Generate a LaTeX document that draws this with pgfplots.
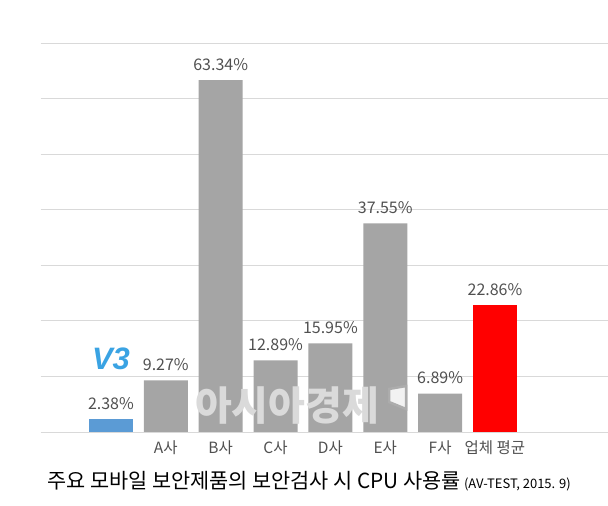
\documentclass[border=0pt]{standalone}
\usepackage{pgfplots}
\pgfplotsset{compat=1.18}
\usepackage{fontspec}
\setmainfont{Noto Sans CJK KR}
\newfontfamily\logofont{Liberation Sans}
\definecolor{barGray}{HTML}{A5A5A5}
\definecolor{barBlue}{HTML}{5B9BD5}
\definecolor{barRed}{HTML}{FF0000}
\definecolor{gridGray}{HTML}{D9D9D9}
\definecolor{txtGray}{HTML}{505050}
\definecolor{logoBlue}{HTML}{3AA3E3}
\definecolor{markGray}{HTML}{DADADA}
\begin{document}
\begin{tikzpicture}
\path[use as bounding box] (0,0) rectangle (608pt,506pt);
\begin{axis}[
    at={(40.7pt,74pt)}, anchor=south west,
    scale only axis,
    width=567.3pt, height=389pt,
    ybar, bar width=44pt, bar shift=0pt,
    xmin=-1.28, xmax=9.06,
    ymin=0, ymax=70,
    ytick={0,10,...,70}, yticklabels={},
    ymajorgrids, grid style={gridGray, line width=0.8pt},
    xtick={1,...,7},
    xticklabels={A사,B사,C사,D사,E사,F사,업체 평균},
    xticklabel style={font=\fontsize{15.5}{18}\selectfont, text=txtGray, yshift=-5pt},
    major tick length=0pt,
    axis line style={draw=none},
    /pgf/number format/assume math mode=true,
    nodes near coords={\pgfmathprintnumber[fixed,fixed zerofill,precision=2]{\pgfplotspointmeta}\%},
    every node near coord/.append style={font=\fontsize{16}{18}\selectfont, text=txtGray, yshift=6pt},
]
\addplot[fill=barBlue, draw=none] coordinates {(0,2.38)};
\addplot[fill=barGray, draw=none] coordinates {
    (1,9.27) (2,63.34) (3,12.89) (4,15.95) (5,37.55) (6,6.89)};
\addplot[fill=barRed, draw=none] coordinates {(7,22.86)};
\end{axis}
% V3 logo
\node[text=logoBlue, font=\logofont\bfseries\itshape\fontsize{31}{31}\selectfont] at (111pt,147pt) {V3};
% watermark
\node[text=markGray, font=\bfseries\fontsize{40}{40}\selectfont] at (287pt,100pt) {아시아경제};
\draw[gray!65, fill=white!95!black, line width=2.5pt, line join=miter]
  (389pt,117pt) -- (406pt,120pt) -- (406pt,97pt) -- (389pt,104pt) -- cycle;
% title
\node[anchor=base west, inner sep=0pt] at (47pt,17pt)
  {\fontsize{20.8}{24}\selectfont 주요 모바일 보안제품의 보안검사 시 CPU 사용률\hspace{3pt}\fontsize{13}{15}\selectfont(AV-TEST, 2015. 9)};
\end{tikzpicture}
\end{document}
